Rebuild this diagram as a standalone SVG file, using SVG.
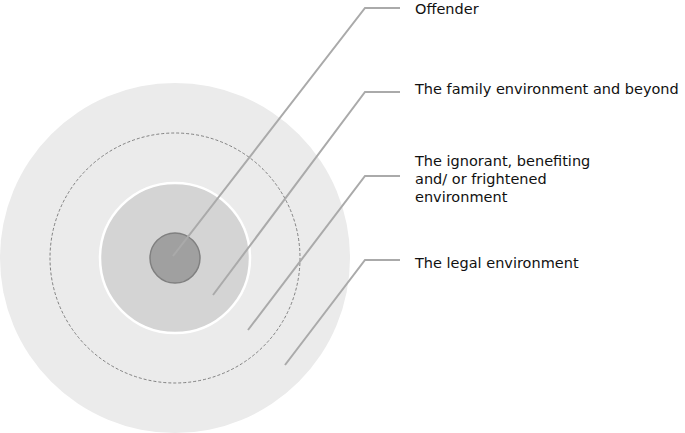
<svg xmlns="http://www.w3.org/2000/svg" width="685" height="433" viewBox="0 0 685 433">
<style>
.l{fill:none;stroke:#aaaaaa;stroke-width:2}
text{font-family:"DejaVu Sans",Verdana,sans-serif;font-size:14.5px;fill:#111}
</style>
<rect width="685" height="433" fill="#fff"/>
<g id="legal"><circle cx="175" cy="258" r="175" fill="#ebebeb"/></g>
<g id="ignorant"><circle cx="175" cy="258" r="125" fill="none" stroke="#666" stroke-width="0.8" stroke-dasharray="3,2"/></g>
<g id="family"><circle cx="175" cy="258" r="75" fill="#d4d4d4" stroke="#fff" stroke-width="2.5"/></g>
<g id="offender"><circle cx="175" cy="258" r="25" fill="#a0a0a0" stroke="#808080" stroke-width="1.5"/></g>
<g id="connectors">
<polyline class="l" points="173,256 365,8 400,8"/>
<polyline class="l" points="213,295 365,92 400,92"/>
<polyline class="l" points="248,330 365,176 400,176"/>
<polyline class="l" points="285,365 365,260 400,260"/>
</g>
<g id="labels">
<text x="415" y="14">Offender</text>
<text x="415" y="94">The family environment and beyond</text>
<text x="415" y="166">The ignorant, benefiting</text>
<text x="415" y="184">and/ or frightened</text>
<text x="415" y="202">environment</text>
<text x="415" y="268">The legal environment</text>
</g>
</svg>
